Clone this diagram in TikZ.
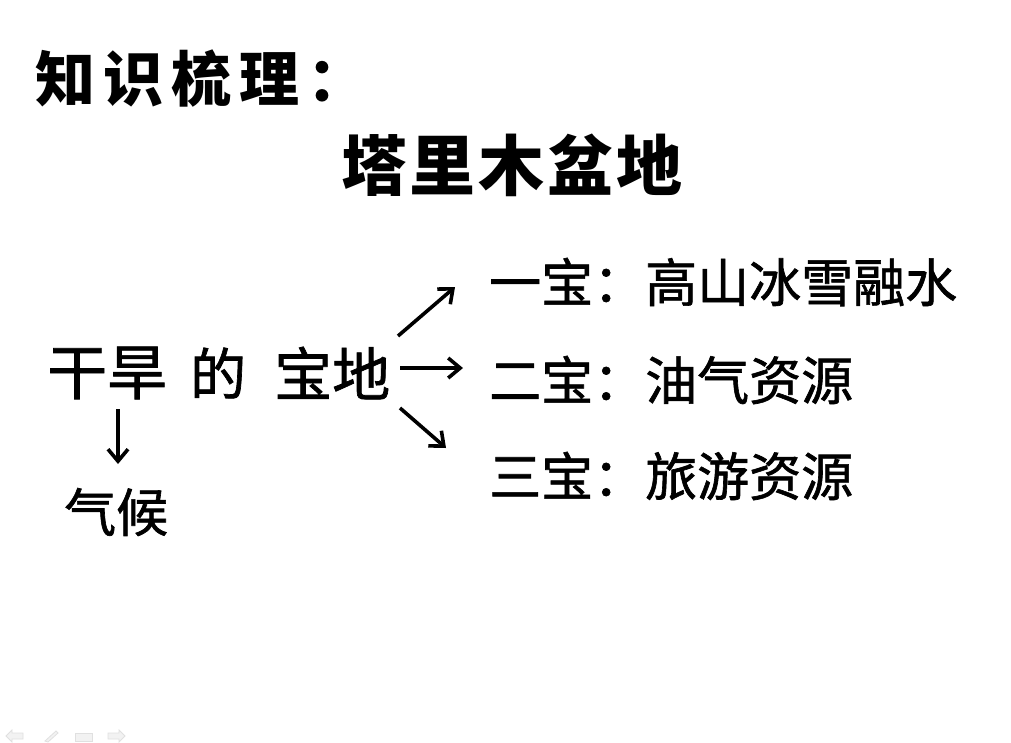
\documentclass[tikz,border=0pt]{standalone}
\usepackage{fontspec}
\newfontfamily\cjk[FakeBold=1.2]{Noto Sans CJK SC}
\newfontfamily\cjkb{Noto Sans CJK SC}
\usetikzlibrary{arrows.meta}
\newcommand{\tsp}{\hspace{8pt}}
\newcommand{\bsp}{\hspace{3pt}}
\begin{document}
\begin{tikzpicture}[x=1pt,y=-1pt,
  txt/.style={inner sep=0pt, anchor=west, font=\cjk},
  arr/.style={line width=3.6pt, -{Straight Barb[length=12pt,width=20pt,line width=3.6pt]}},
  nav/.style={draw=black!12, fill=black!5, line width=0.8pt}]
\useasboundingbox (0,0) rectangle (1011,742);
\fill[white] (0,0) rectangle (1011,742);
\node[txt, font=\cjkb\fontsize{60}{62}\selectfont\bfseries] (title) at (35,79) {知\tsp 识\tsp 梳\tsp 理\tsp ：};
\node[inner sep=0pt, font=\cjkb\fontsize{66}{68}\selectfont\bfseries] (basin) at (512,165) {塔\bsp 里\bsp 木\bsp 盆\bsp 地};
\node[txt, font=\cjk\fontsize{60}{62}\selectfont] (gh) at (47,373) {干旱};
\node[txt, font=\cjk\fontsize{56}{58}\selectfont] (de) at (190,373) {的};
\node[txt, font=\cjk\fontsize{58}{60}\selectfont] (bd) at (274,373) {宝地};
\node[txt, font=\cjk\fontsize{52}{54}\selectfont] (qh) at (64,512) {气候};
\node[txt, font=\cjk\fontsize{52}{54}\selectfont] (b1) at (489,282) {一宝：高山冰雪融水};
\node[txt, font=\cjk\fontsize{52}{54}\selectfont] (b2) at (489,380) {二宝：油气资源};
\node[txt, font=\cjk\fontsize{52}{54}\selectfont] (b3) at (489,476) {三宝：旅游资源};
\coordinate (s1) at (398,336);
\coordinate (s2) at (400,368);
\coordinate (s3) at (400,408);
\coordinate (e1) at (455,287);
\coordinate (e2) at (463,368);
\coordinate (e3) at (446,448);
\draw[arr] (s1) -- (e1);
\draw[arr] (s2) -- (e2);
\draw[arr] (s3) -- (e3);
\coordinate (d1) at (118,409);
\coordinate (d2) at (118,464);
\draw[arr] (d1) -- (d2);
% faint navigation icons
\draw[nav] (6,736) -- (12,730) -- (12,733) -- (23,733) -- (23,739) -- (12,739) -- (12,742) -- cycle;
\draw[nav] (45,741) -- (56,731) -- (58,733) -- (48,742) -- cycle;
\draw[nav] (75,733) rectangle (92,741);
\draw[nav] (125,736) -- (119,730) -- (119,733) -- (108,733) -- (108,739) -- (119,739) -- (119,742) -- cycle;
\end{tikzpicture}
\end{document}
